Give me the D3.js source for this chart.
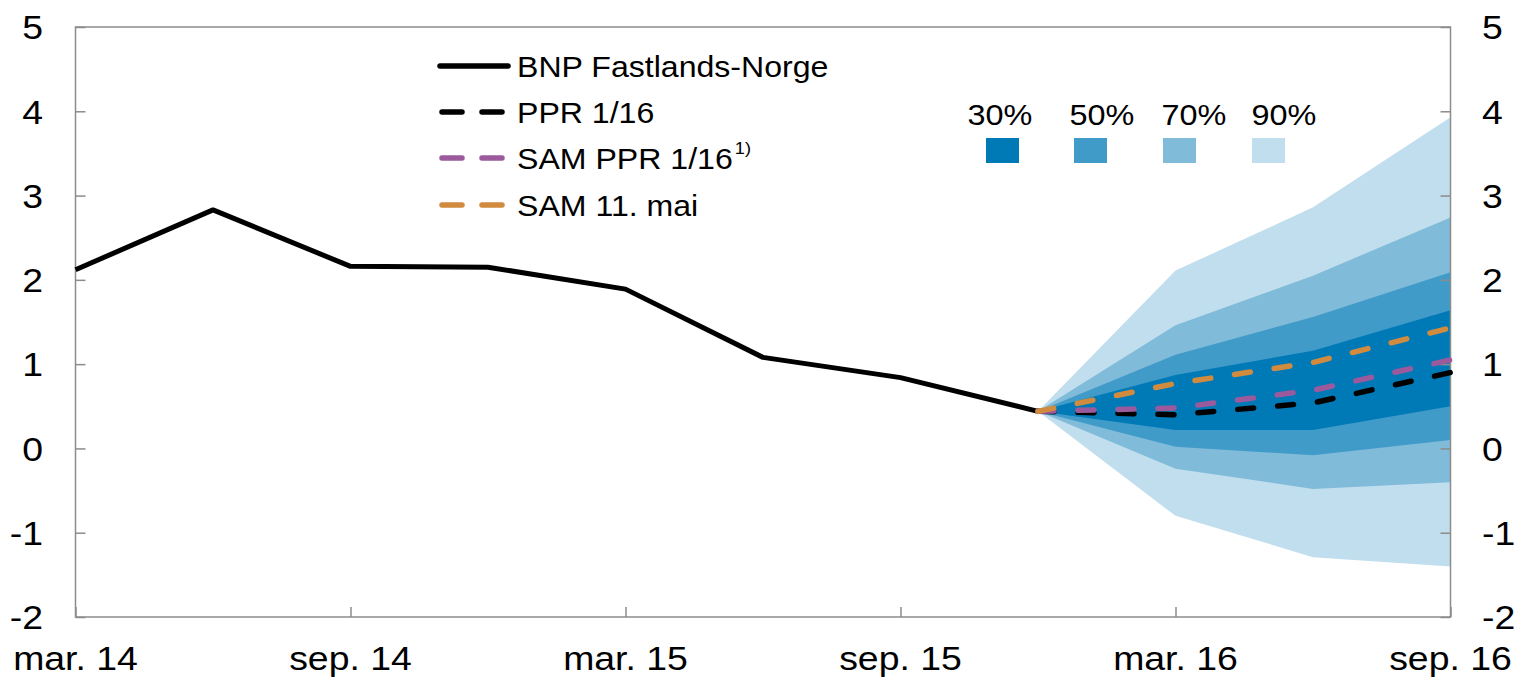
<!DOCTYPE html>
<html><head><meta charset="utf-8">
<script src="https://cdn.jsdelivr.net/npm/d3@7/dist/d3.min.js"></script>
<style>body{margin:0;background:#fff}svg{display:block}text{font-family:Arial,"Liberation Sans",sans-serif;fill:#000}</style>
</head><body>
<svg id="c" width="1518" height="679"></svg>
<script>
// Quarters: index 0 = mar. 14 ... index 10 = sep. 16
const quarters = ["mar. 14","jun. 14","sep. 14","des. 14","mar. 15","jun. 15","sep. 15","des. 15","mar. 16","jun. 16","sep. 16"];
const xTickIdx = [0,2,4,6,8,10];
const yTicks = [-2,-1,0,1,2,3,4,5];

const bnp = [2.12, 2.83, 2.16, 2.15, 1.89, 1.08, 0.84, 0.44];
const fanIdx = [7, 8, 9, 10];
const ppr = [0.44, 0.40, 0.54, 0.90];
const samPpr = [0.44, 0.48, 0.69, 1.05];
const sam11mai = [0.44, 0.77, 1.02, 1.43];

const band90lo = [0.44, -0.80, -1.29, -1.40];
const band90hi = [0.44, 2.11, 2.86, 3.93];
const band70lo = [0.44, -0.24, -0.48, -0.40];
const band70hi = [0.44, 1.46, 2.05, 2.74];
const band50lo = [0.44, 0.02, -0.08, 0.10];
const band50hi = [0.44, 1.11, 1.56, 2.09];
const band30lo = [0.44, 0.22, 0.22, 0.50];
const band30hi = [0.44, 0.87, 1.16, 1.64];

const bandLabels = ["30%","50%","70%","90%"];
const bandColors = ["#0079b7","#409bc9","#80bbd9","#c1deee"];

const svg = d3.select("#c");
const L = 75.5, R = 1450.5, T = 27, B = 617;
const x = d3.scaleLinear().domain([0,10]).range([L,R]);
const y = d3.scaleLinear().domain([-2,5]).range([B,T]);

function label(px, py, str, size, anchor, sx, dy){
  return svg.append("text")
    .attr("transform",`translate(${px},${py}) scale(${sx},1)`)
    .attr("dy",dy||0).attr("text-anchor",anchor).attr("font-size",size).text(str);
}

// fans
const bands = [[band90lo,band90hi,3],[band70lo,band70hi,2],[band50lo,band50hi,1],[band30lo,band30hi,0]];
const area = d3.area().x(d=>x(d.i)).y0(d=>y(d.lo)).y1(d=>y(d.hi));
bands.forEach(([lo,hi,ci])=>{
  const data = fanIdx.map((i,k)=>({i, lo:lo[k], hi:hi[k]}));
  svg.append("path").attr("d",area(data)).attr("fill",bandColors[ci]);
});

// frame
const gridCol = "#8c8c8c";
svg.append("rect").attr("x",L).attr("y",T).attr("width",R-L).attr("height",B-T)
  .attr("fill","none").attr("stroke",gridCol).attr("stroke-width",1.5);

// axes (ticks inward)
const gl = svg.append("g").attr("transform",`translate(${L},0)`).call(d3.axisRight(y).tickValues(yTicks).tickSize(10).tickFormat(""));
const gr = svg.append("g").attr("transform",`translate(${R},0)`).call(d3.axisLeft(y).tickValues(yTicks).tickSize(10).tickFormat(""));
const gx = svg.append("g").attr("transform",`translate(0,${B})`).call(d3.axisTop(x).tickValues(xTickIdx).tickSize(10).tickFormat(""));
[gl,gr,gx].forEach(g=>{g.select(".domain").remove(); g.selectAll("line").attr("stroke",gridCol).attr("stroke-width",1.5);});

// y labels
yTicks.forEach(v=>{
  label(43, y(v), v, 34, "end", 1.1, "0.36em");
  label(1482, y(v), v, 34, "start", 1.1, "0.36em");
});
// x labels
xTickIdx.forEach(i=>{
  label(x(i), 670, quarters[i], 34, "middle", 1.1, 0);
});

// lines
const line = d3.line().x(d=>x(d.i)).y(d=>y(d.v));
svg.append("path").attr("d",line(bnp.map((v,i)=>({i,v})))).attr("fill","none")
  .attr("stroke","#000").attr("stroke-width",5).attr("stroke-linejoin","round");
const dashed = [[ppr,"#000"],[samPpr,"#9b5a9c"],[sam11mai,"#d18b3e"]];
dashed.forEach(([arr,col])=>{
  svg.append("path").attr("d",line(arr.map((v,k)=>({i:fanIdx[k],v})))).attr("fill","none")
    .attr("stroke",col).attr("stroke-width",5.5).attr("stroke-linecap","round")
    .attr("stroke-dasharray","16,24");
});

// legend
const leg = [
  {t:"BNP Fastlands-Norge", c:"#000", dash:null, y:66},
  {t:"PPR 1/16", c:"#000", dash:"20,20", y:112},
  {t:"SAM PPR 1/16", c:"#9b5a9c", dash:"20,20", y:158, sup:"1)"},
  {t:"SAM 11. mai", c:"#d18b3e", dash:"20,20", y:205}
];
leg.forEach(d=>{
  const ln = svg.append("line").attr("x1",440).attr("x2",508).attr("y1",d.y).attr("y2",d.y)
    .attr("stroke",d.c).attr("stroke-width",5.5).attr("stroke-linecap","round");
  if(d.dash) ln.attr("stroke-dasharray","20,20").attr("x1",442).attr("x2",502);
  const t = svg.append("text").attr("transform",`translate(517,${d.y}) scale(1.07,1)`)
    .attr("dy","0.36em").attr("font-size",30);
  t.append("tspan").text(d.t);
  if(d.sup) t.append("tspan").attr("font-size",17).attr("dx",2).attr("dy","-0.85em").text(d.sup);
});

// band legend
const labCx = [1000,1102,1194,1284];
const sqX = [986,1074,1163,1252];
bandLabels.forEach((l,k)=>{
  label(labCx[k], 125, l, 30, "middle", 1.08, 0);
  svg.append("rect").attr("x",sqX[k]).attr("y",138).attr("width",33).attr("height",25).attr("fill",bandColors[k]);
});
</script>
</body></html>
